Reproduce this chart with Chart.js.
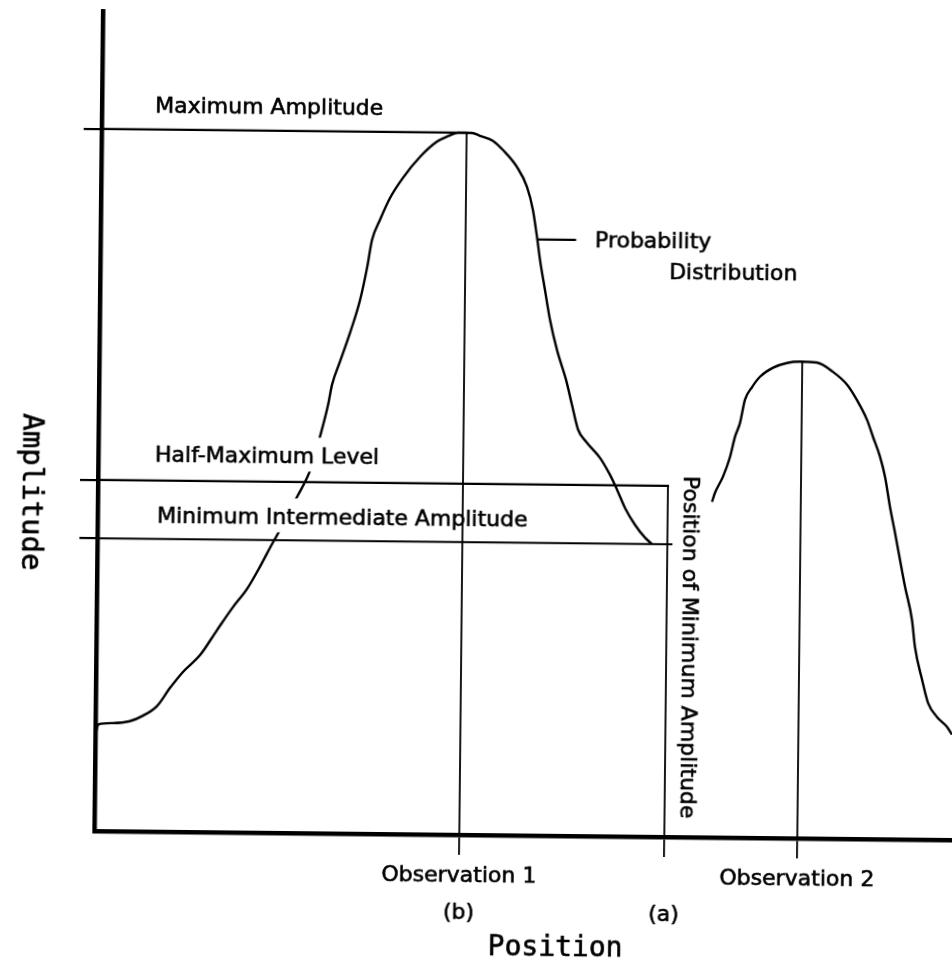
<!DOCTYPE html>
<html>
<head>
<meta charset="utf-8">
<title>Amplitude vs Position</title>
<script src="https://cdn.jsdelivr.net/npm/chart.js@4.4.1/dist/chart.umd.min.js"></script>
<style>
  html, body { margin: 0; padding: 0; background: #fff; overflow: hidden; }
  body { width: 952px; height: 964px; position: relative; }
  /* the scanned figure sits a little skewed on the page */
  #fig { position: absolute; left: 0; top: 0; transform: rotate(0.6deg); transform-origin: 476px 482px; }
</style>
</head>
<body>
<canvas id="fig" width="1000" height="1000"></canvas>
<script>
// position in arbitrary units along the axis, amplitude in % of the maximum
const curve1Position = [0, 0.3, 1.75, 3.45, 4.75, 6.14, 7.42, 8.7, 10.38, 12.06, 13.63, 15.01, 16.29, 17.27, 18.25,
  19.03, 19.92, 21.29, 22.15, 22.92, 23.3, 24.07, 25.04, 26.01, 26.68, 27.15, 27.93, 28.9, 30.18, 31.86, 33.54, 34.64,
  35.63, 37.03, 37.84, 39.14, 40.15, 41.57, 42.59, 43.21, 43.64, 43.97, 44.5, 45.03, 45.76, 46.69, 47.32, 47.95, 48.76,
  50.18, 51.19, 51.91, 52.73, 53.75, 54.76, 55.47];
const curve1Amplitude = [13.7, 15.2, 15.4, 15.7, 16.5, 17.9, 20.5, 22.8, 25.2, 28.8, 32.1, 34.7, 37.9, 40.6, 43.2,
  45.6, 47.9, 52.0, 56.5, 61.0, 63.9, 67.2, 71.3, 76.0, 80.6, 84.6, 87.5, 90.6, 93.5, 96.5, 98.7, 99.5,
  100, 100, 99.6, 98.9, 97.6, 95.2, 92.4, 89.1, 85.3, 82.0, 77.7, 73.5, 69.2, 65.0, 61.4, 57.9, 56.2,
  53.9, 51.5, 49.4, 46.8, 44.4, 42.6, 41.7];

const curve2Position = [61.42, 61.71, 62.49, 63.17, 63.65, 64.14, 64.61, 65.3, 66.09, 67.38, 68.77, 70.07, 71.77,
  73.38, 74.8, 75.81, 76.84, 77.45, 78.17, 78.7, 79.23, 79.75, 80.28, 80.81, 81.54, 81.87, 82.61, 83.23, 84.15,
  85.16, 85.67];
const curve2Amplitude = [47.8, 49.1, 51.4, 54.2, 57.1, 59.1, 62.4, 64.2, 65.7, 67.0, 67.7, 67.9, 67.8,
  66.5, 64.7, 62.5, 59.7, 57.3, 54.5, 51.6, 47.3, 43.7, 39.8, 36.0, 31.3, 27.4, 22.8, 19.5, 17.5,
  16.1, 15.0];

const MAX_LEVEL = 100;
const HALF_LEVEL = 50;
const MIN_LEVEL = 41.7;
const OBS2_PEAK = 67.9;

const OBS1_AT = 36.5;
const MIN_AT = 57;
const OBS2_AT = 70.3;
const MIN_LINE_END = 57.4;

const xTicks = [OBS1_AT, MIN_AT, OBS2_AT];
const xTickLabels = [['Observation 1', '(b)'], ['', '(a)'], ['Observation 2']];
const yTicks = [MIN_LEVEL, HALF_LEVEL, MAX_LEVEL];

const noteText = ['Maximum Amplitude', 'Half-Maximum Level', 'Minimum Intermediate Amplitude', 'Probability', 'Distribution'];
const noteAt = [[5.32, 102.4], [5.68, 52.65], [5.94, 43.96], [49.45, 83.94], [56.89, 79.49]];
const pointerLine = [[43.75, 84.9], [47.45, 84.9]];

const SANS = '22px "DejaVu Sans"';

function zip(xs, ys) {
  return xs.map((x, i) => ({ x, y: ys[i] }));
}

function segment(points, width) {
  return {
    data: points.map(([x, y]) => ({ x, y })),
    showLine: true,
    borderColor: '#000',
    borderWidth: width,
    borderCapStyle: 'square',
    pointRadius: 0,
    tension: 0,
    order: 1
  };
}

function curve(xs, ys) {
  return {
    data: zip(xs, ys),
    curve: true,
    showLine: true,
    borderColor: '#000',
    borderWidth: 2.4,
    pointRadius: 0,
    cubicInterpolationMode: 'monotone',
    order: 2
  };
}

// bitmap-style lettering: fill plus a hairline stroke
function inkText(ctx, text, px, py) {
  ctx.fillText(text, px, py);
  ctx.strokeText(text, px, py);
}

function drawRotated(ctx, text, px, py, font, align) {
  ctx.save();
  ctx.translate(px, py);
  ctx.rotate(Math.PI / 2);
  ctx.font = font;
  ctx.textAlign = align;
  ctx.textBaseline = 'middle';
  inkText(ctx, text, 0, 0);
  ctx.restore();
}

function drawNotes(chart) {
  const { ctx } = chart;
  const { x, y } = chart.scales;

  ctx.save();
  ctx.font = SANS;
  ctx.textAlign = 'left';
  ctx.textBaseline = 'alphabetic';
  ctx.strokeStyle = '#000';
  ctx.lineWidth = 0.6;

  noteText.forEach((text, i) => {
    const px = x.getPixelForValue(noteAt[i][0]);
    const py = y.getPixelForValue(noteAt[i][1]);
    const width = ctx.measureText(text).width;
    // text boxes break the curve where they cross it
    ctx.fillStyle = '#fff';
    ctx.fillRect(px - 4, py - 26, width + 8, 34);
    ctx.fillStyle = '#000';
    inkText(ctx, text, px, py);
  });

  ctx.fillStyle = '#000';
  drawRotated(ctx, 'Position of Minimum Amplitude', x.getPixelForValue(59.19), y.getPixelForValue(51.45), SANS, 'left');
  drawRotated(ctx, 'Amplitude', x.getPixelForValue(-6.74), y.getPixelForValue(48.2), '29px "DejaVu Sans Mono"', 'center');

  ctx.font = '28px "DejaVu Sans Mono"';
  ctx.textAlign = 'center';
  ctx.textBaseline = 'middle';
  inkText(ctx, 'Position', x.getPixelForValue(46.2), y.getPixelForValue(-16.1));
  ctx.restore();
}

const figureNotes = {
  id: 'figureNotes',
  beforeDatasetsDraw(chart) {
    chart.$curvesDrawn = 0;
  },
  afterDatasetDraw(chart, args) {
    if (!chart.data.datasets[args.index].curve) {
      return;
    }
    chart.$curvesDrawn += 1;
    if (chart.$curvesDrawn === 2) {
      drawNotes(chart);
    }
  }
};

new Chart(document.getElementById('fig'), {
  type: 'scatter',
  data: {
    datasets: [
      curve(curve1Position, curve1Amplitude),
      curve(curve2Position, curve2Amplitude),
      segment([[0, MAX_LEVEL], [OBS1_AT, MAX_LEVEL]], 2.2),
      segment([[0, HALF_LEVEL], [MIN_AT, HALF_LEVEL]], 2.2),
      segment([[0, MIN_LEVEL], [MIN_LINE_END, MIN_LEVEL]], 2.2),
      segment([[OBS1_AT, MAX_LEVEL], [OBS1_AT, 0]], 1.8),
      segment([[MIN_AT, HALF_LEVEL], [MIN_AT, 0]], 1.8),
      segment([[OBS2_AT, OBS2_PEAK], [OBS2_AT, 0]], 1.8),
      segment(pointerLine, 2.2)
    ]
  },
  options: {
    responsive: false,
    animation: false,
    devicePixelRatio: 1,
    events: [],
    layout: { padding: { top: 15, left: 0, right: 0, bottom: 0 } },
    plugins: {
      legend: { display: false },
      tooltip: { enabled: false }
    },
    scales: {
      x: {
        type: 'linear',
        min: 0,
        max: 90.2,
        afterFit: (scale) => { scale.height = 165; },
        afterBuildTicks: (scale) => { scale.ticks = xTicks.map((value) => ({ value })); },
        border: { display: true, color: '#000', width: 4.5 },
        grid: { drawOnChartArea: false, drawTicks: true, tickLength: 20, color: '#000', lineWidth: 1.8 },
        ticks: {
          autoSkip: false,
          maxRotation: 0,
          minRotation: 0,
          padding: 2,
          color: '#000',
          textStrokeColor: '#000',
          textStrokeWidth: 0.6,
          font: { family: 'DejaVu Sans', size: 22, lineHeight: 1.72 },
          callback: (value, index) => xTickLabels[index]
        }
      },
      y: {
        type: 'linear',
        min: 0,
        max: 116.8,
        afterFit: (scale) => { scale.width = 98; },
        afterBuildTicks: (scale) => { scale.ticks = yTicks.map((value) => ({ value })); },
        border: { display: true, color: '#000', width: 4.5 },
        grid: { drawOnChartArea: false, drawTicks: true, tickLength: 18, color: '#000', lineWidth: 2.2 },
        ticks: { display: false }
      }
    }
  },
  plugins: [figureNotes]
});
</script>
</body>
</html>
